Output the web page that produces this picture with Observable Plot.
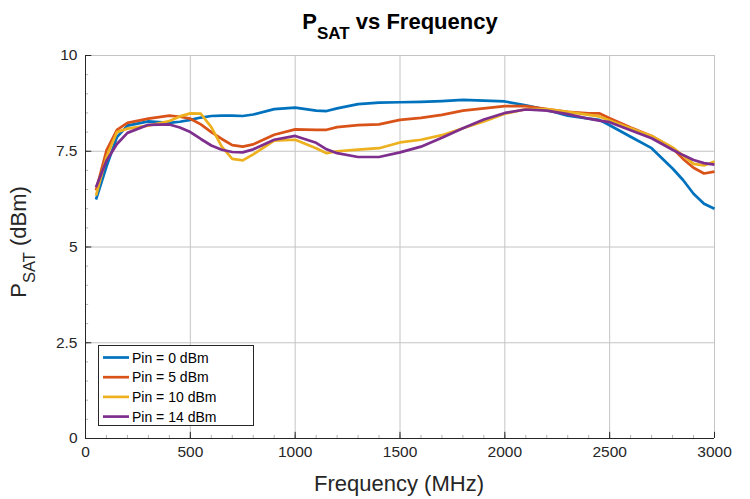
<!DOCTYPE html>
<html>
<head>
<meta charset="utf-8">
<script src="https://cdn.jsdelivr.net/npm/d3@7"></script>
<script src="https://cdn.jsdelivr.net/npm/@observablehq/plot@0.6"></script>
<style>
  html, body { margin: 0; padding: 0; background: #fff; }
  #chart svg { display: block; }
</style>
</head>
<body>
<div id="chart"></div>
<script>
// ---- data ----
const freq = [50, 100, 150, 200, 300, 400, 450, 500, 550, 600, 650, 700, 750, 800, 900, 1000, 1100, 1150, 1200, 1300, 1400, 1500, 1600, 1700, 1800, 1900, 2000, 2100, 2200, 2300, 2400, 2450, 2500, 2600, 2700, 2800, 2850, 2900, 2950, 3000];
const pin0  = [6.24, 7.10, 7.87, 8.17, 8.28, 8.24, 8.27, 8.32, 8.38, 8.42, 8.43, 8.43, 8.42, 8.46, 8.60, 8.64, 8.56, 8.55, 8.62, 8.73, 8.77, 8.78, 8.79, 8.81, 8.84, 8.82, 8.80, 8.70, 8.58, 8.43, 8.35, 8.32, 8.18, 7.88, 7.58, 7.05, 6.75, 6.39, 6.13, 6.00];
const pin5  = [6.48, 7.52, 8.06, 8.24, 8.35, 8.43, 8.40, 8.35, 8.20, 8.00, 7.82, 7.66, 7.62, 7.68, 7.93, 8.07, 8.06, 8.06, 8.13, 8.18, 8.20, 8.32, 8.37, 8.45, 8.56, 8.62, 8.68, 8.68, 8.60, 8.53, 8.49, 8.49, 8.36, 8.12, 7.90, 7.58, 7.30, 7.07, 6.92, 6.97];
const pin10 = [6.34, 7.35, 8.00, 8.09, 8.17, 8.29, 8.41, 8.49, 8.48, 8.13, 7.62, 7.30, 7.26, 7.42, 7.78, 7.80, 7.58, 7.45, 7.50, 7.54, 7.58, 7.73, 7.80, 7.92, 8.10, 8.28, 8.48, 8.60, 8.60, 8.53, 8.45, 8.41, 8.30, 8.10, 7.90, 7.60, 7.39, 7.17, 7.13, 7.23];
const pin14 = [6.56, 7.25, 7.69, 7.98, 8.19, 8.20, 8.12, 8.00, 7.82, 7.65, 7.54, 7.48, 7.47, 7.55, 7.80, 7.90, 7.72, 7.55, 7.45, 7.35, 7.35, 7.47, 7.62, 7.85, 8.10, 8.33, 8.50, 8.59, 8.56, 8.47, 8.35, 8.30, 8.26, 8.05, 7.84, 7.54, 7.40, 7.27, 7.19, 7.15];
const seriesNames = ["Pin = 0 dBm", "Pin = 5 dBm", "Pin = 10 dBm", "Pin = 14 dBm"];
const seriesColors = ["#0072BD", "#D95319", "#EDB120", "#7E2F8E"];
const xTicks = [0, 500, 1000, 1500, 2000, 2500, 3000];
const yTicks = [0, 2.5, 5, 7.5, 10];
const xMinor = d3.range(0, 3001, 100);
const yMinor = d3.range(0, 10.01, 0.5);

// ---- table ----
const allSeries = [pin0, pin5, pin10, pin14];
const rows = [];
allSeries.forEach((vals, si) => {
  vals.forEach((v, i) => rows.push({ f: freq[i], p: v, s: seriesNames[si] }));
});

const W = 750, H = 499;
const ML = 85, MR = 36, MT = 55, MB = 61;
const axisColor = "#262626";
const gridColor = "#c4c4c4";
const font = "'Liberation Sans', Arial, Helvetica, sans-serif";

const plot = Plot.plot({
  width: W,
  height: H,
  marginLeft: ML,
  marginRight: MR,
  marginTop: MT,
  marginBottom: MB,
  style: { fontFamily: font, background: "#fff", overflow: "visible" },
  x: { domain: [0, 3000] },
  y: { domain: [0, 10] },
  color: { domain: seriesNames, range: seriesColors },
  marks: [
    // grid
    Plot.ruleX(xTicks.slice(1), { stroke: gridColor, strokeWidth: 1 }),
    Plot.ruleY(yTicks.slice(1), { stroke: gridColor, strokeWidth: 1 }),
    // minor ticks (inward)
    Plot.ruleX(xMinor, { x: d => d, y1: 0, y2: 0.08, stroke: axisColor, strokeOpacity: 0.6, strokeWidth: 0.6 }),
    Plot.ruleY(yMinor, { y: d => d, x1: 0, x2: 15, stroke: axisColor, strokeOpacity: 0.6, strokeWidth: 0.6 }),
    // major ticks (inward)
    Plot.ruleX(xTicks, { x: d => d, y1: 0, y2: 0.16, stroke: axisColor, strokeWidth: 1 }),
    Plot.ruleY(yTicks, { y: d => d, x1: 0, x2: 30, stroke: axisColor, strokeWidth: 1 }),
    // axes lines
    Plot.ruleX([0], { stroke: axisColor, strokeWidth: 1 }),
    Plot.ruleY([0], { stroke: axisColor, strokeWidth: 1 }),
    Plot.axisX({ ticks: xTicks, tickSize: 0, tickPadding: 7, fontSize: 15.5, color: axisColor, label: null, tickFormat: d => String(d) }),
    Plot.axisY({ ticks: yTicks, tickSize: 0, tickPadding: 8, fontSize: 15.5, color: axisColor, label: null, tickFormat: d => String(d) }),
    // data lines
    Plot.line(rows, { x: "f", y: "p", z: "s", stroke: "s", strokeWidth: 2.7, strokeLinejoin: "round", strokeLinecap: "butt" })
  ]
});

document.getElementById("chart").appendChild(plot);
const svg = d3.select(plot);

// Title with subscript
const title = svg.append("text")
  .attr("x", 400).attr("y", 29)
  .attr("text-anchor", "middle")
  .attr("font-family", font)
  .attr("font-weight", "bold")
  .attr("font-size", 22)
  .attr("fill", "#000");
title.append("tspan").text("P");
title.append("tspan").attr("font-size", 17).attr("dy", 10).text("SAT");
title.append("tspan").attr("dy", -10).text(" vs Frequency");

// X label
svg.append("text")
  .attr("x", 399).attr("y", 491)
  .attr("text-anchor", "middle")
  .attr("font-family", font)
  .attr("font-size", 22)
  .attr("fill", axisColor)
  .text("Frequency (MHz)");

// Y label with subscript
const yl = svg.append("text")
  .attr("transform", "translate(26,242) rotate(-90)")
  .attr("text-anchor", "middle")
  .attr("font-family", font)
  .attr("font-size", 22)
  .attr("fill", axisColor);
yl.append("tspan").text("P");
yl.append("tspan").attr("font-size", 16.5).attr("dy", 9).text("SAT");
yl.append("tspan").attr("dy", -9).text(" (dBm)");

// Legend
const lg = svg.append("g").attr("text-anchor", "start");
lg.append("rect")
  .attr("x", 98.5).attr("y", 345.5).attr("width", 155).attr("height", 80)
  .attr("fill", "#fff").attr("stroke", axisColor).attr("stroke-width", 1);
seriesNames.forEach((name, i) => {
  const yy = 357.5 + i * 19.7;
  lg.append("line")
    .attr("x1", 103).attr("x2", 129).attr("y1", yy).attr("y2", yy)
    .attr("stroke", seriesColors[i]).attr("stroke-width", 2.7);
  lg.append("text")
    .attr("x", 132).attr("y", yy).attr("dy", "0.36em")
    .attr("text-anchor", "start")
    .attr("font-family", font).attr("font-size", 14)
    .attr("fill", "#000")
    .text(name);
});
</script>
</body>
</html>
